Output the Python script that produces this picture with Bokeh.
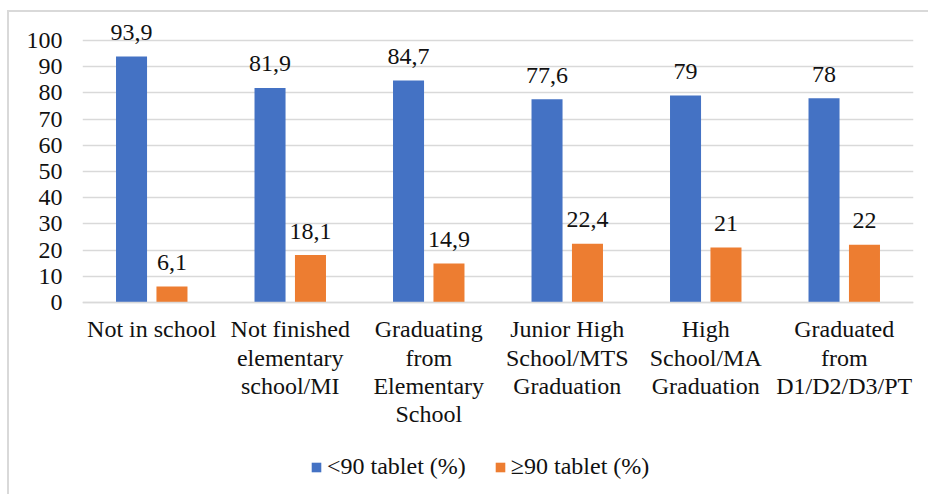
from bokeh.plotting import figure
from bokeh.models import (ColumnDataSource, FactorRange, Range1d, FixedTicker,
                          Legend, LegendItem)
from bokeh.transform import dodge
from bokeh.core.properties import value
from bokeh.embed import file_html
from bokeh.resources import INLINE

# Education level categories (multi-line axis labels)
categories = [
    "Not in school",
    "Not finished\nelementary\nschool/MI",
    "Graduating\nfrom\nElementary\nSchool",
    "Junior High\nSchool/MTS\nGraduation",
    "High\nSchool/MA\nGraduation",
    "Graduated\nfrom\nD1/D2/D3/PT",
]
below_90 = [93.9, 81.9, 84.7, 77.6, 79, 78]
above_90 = [6.1, 18.1, 14.9, 22.4, 21, 22]
series_names = ["<90 tablet (%)", "\u226590 tablet (%)"]
y_ticks = [0, 10, 20, 30, 40, 50, 60, 70, 80, 90, 100]

FONT = "Liberation Serif, Times New Roman, serif"
BLUE = "#4472C4"
ORANGE = "#ED7D31"
GRID = "#d9d9d9"
INK = "#111111"


def fmt(v):
    return f"{v:g}".replace(".", ",")


source = ColumnDataSource(data=dict(
    cat=categories,
    below=below_90,
    above=above_90,
    below_lbl=[fmt(v) for v in below_90],
    above_lbl=[fmt(v) for v in above_90],
))

# the plot frame runs down to the bottom edge so that the category labels
# and the legend sit inside it; the value axis itself stops at 100
p = figure(
    x_range=FactorRange(factors=categories, range_padding=0),
    y_range=Range1d(-74.05, 109.92),
    width=921, height=484,
    min_border_left=73, min_border_right=17,
    min_border_top=2, min_border_bottom=0,
    output_backend="svg", toolbar_location=None,
)
# light frame around the chart area (top and left edges visible)
p.styles = {
    "margin-left": "7px", "margin-top": "10px",
    "border-left": "2px solid #d9d9d9", "border-top": "2px solid #d9d9d9",
}
p.outline_line_color = None
p.background_fill_color = "white"
p.border_fill_color = "white"

BAR_W = 0.224
OFF = 0.146

r_below = p.vbar(x=dodge("cat", -OFF, range=p.x_range), top="below", width=BAR_W,
                 source=source, fill_color=BLUE, line_color=None)
r_above = p.vbar(x=dodge("cat", OFF, range=p.x_range), top="above", width=BAR_W,
                 source=source, fill_color=ORANGE, line_color=None)

# value labels above each bar
for col, lbl, off in (("below", "below_lbl", -OFF), ("above", "above_lbl", OFF)):
    p.text(x=dodge("cat", off, range=p.x_range), y=col, text=lbl, source=source,
           text_align="center", text_baseline="alphabetic", y_offset=-24,
           text_font=value(FONT), text_font_size="24px", text_color=INK)

# axes
p.yaxis.ticker = FixedTicker(ticks=y_ticks)
p.yaxis.axis_line_color = None
p.yaxis.major_tick_line_color = None
p.yaxis.minor_tick_line_color = None
p.yaxis.major_tick_out = 0
p.yaxis.major_tick_in = 0
p.yaxis.major_label_standoff = 20
p.yaxis.major_label_text_font = FONT
p.yaxis.major_label_text_font_size = "24px"
p.yaxis.major_label_text_color = INK

p.xaxis.fixed_location = 0
p.xaxis.axis_line_color = GRID
p.xaxis.axis_line_width = 1.5
p.xaxis.major_tick_line_color = None
p.xaxis.major_tick_out = 0
p.xaxis.major_tick_in = 0
p.xaxis.major_label_standoff = 14
p.xaxis.major_label_text_font = FONT
p.xaxis.major_label_text_font_size = "24px"
p.xaxis.major_label_text_color = INK
p.xaxis.major_label_text_line_height = 1.08
p.xaxis.major_label_orientation = "horizontal"

p.xgrid.grid_line_color = None
p.ygrid.ticker = FixedTicker(ticks=y_ticks)
p.ygrid.grid_line_color = GRID
p.ygrid.grid_line_width = 1.5

legend = Legend(
    items=[LegendItem(label=series_names[0], renderers=[r_below]),
           LegendItem(label=series_names[1], renderers=[r_above])],
    orientation="horizontal", location=(228, 16),
    glyph_width=12, glyph_height=12, label_standoff=5, spacing=28,
    padding=0, margin=0, border_line_color=None, background_fill_alpha=0,
    label_text_font=FONT, label_text_font_size="24px", label_text_color=INK,
)
p.add_layout(legend)

open("out.html", "w").write(file_html(p, INLINE))
